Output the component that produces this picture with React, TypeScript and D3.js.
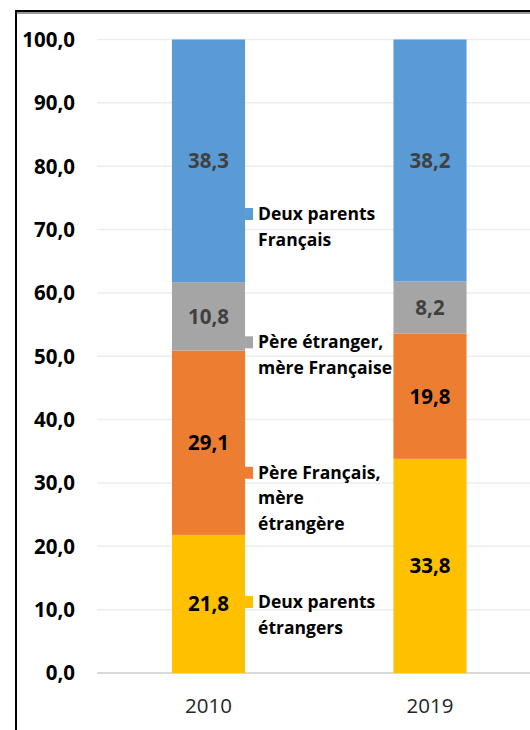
import React from "react";
import * as d3 from "d3";

const years = ["2010", "2019"];
const seriesNames = [
  "Deux parents étrangers",
  "Père Français, mère étrangère",
  "Père étranger, mère Française",
  "Deux parents Français",
];
const seriesLines = [
  ["Deux parents", "étrangers"],
  ["Père Français,", "mère", "étrangère"],
  ["Père étranger,", "mère Française"],
  ["Deux parents", "Français"],
];
const values2010 = [21.8, 29.1, 10.8, 38.3];
const values2019 = [33.8, 19.8, 8.2, 38.2];
const yTicks = [0, 10, 20, 30, 40, 50, 60, 70, 80, 90, 100];
// label anchor (in data units) for series-name annotations next to the 2010 bar
const labelAnchors = [11.2, 31.6, 52.2, 72.45];

const colors = ["#FFC000", "#ED7D31", "#A5A5A5", "#5B9BD5"];
const valueColors = ["#000000", "#000000", "#404040", "#404040"];

const W = 530;
const H = 730;
const FONT = "'Open Sans', 'Noto Sans', sans-serif";

export default function App() {
  const y = d3.scaleLinear().domain([0, 100]).range([673, 39.5]);
  const x = d3
    .scaleBand<string>()
    .domain(years)
    .range([97.75, 540.75])
    .paddingInner(0.67)
    .paddingOuter(0.335);

  const table = years.map((yr, i) => {
    const vals = i === 0 ? values2010 : values2019;
    const row: any = { year: yr };
    seriesNames.forEach((s, j) => (row[s] = vals[j]));
    return row;
  });
  const stacked = d3.stack<any>().keys(seriesNames)(table);
  const fmt = (v: number) => v.toFixed(1).replace(".", ",");
  const bw = x.bandwidth();
  const x2010 = x("2010")! + bw;

  return (
    <svg
      width={W}
      height={H}
      style={{ position: "absolute", left: 0, top: 0, background: "#fff" }}
    >
      <rect x={0} y={0} width={W} height={H} fill="#fff" />
      {/* frame */}
      <rect x={16} y={11} width={W + 20} height={H + 20} fill="none" stroke="#000" strokeWidth={2} />
      <line x1={16} x2={W} y1={13} y2={13} stroke="#333" strokeWidth={1} />
      {/* gridlines */}
      {yTicks.map((t) => (
        <line
          key={t}
          x1={97}
          x2={W}
          y1={y(t)}
          y2={y(t)}
          stroke={t === 0 ? "#d9d9d9" : "#ededed"}
          strokeWidth={t === 0 ? 2 : 1.5}
        />
      ))}
      {/* y tick labels */}
      {yTicks.map((t) => (
        <text
          key={"l" + t}
          x={75}
          y={y(t)}
          dy="0.36em"
          textAnchor="end"
          fontFamily={FONT}
          fontWeight="bold"
          fontSize={20.5}
          fill="#000"
        >
          {fmt(t)}
        </text>
      ))}
      {/* bars */}
      {stacked.map((layer, j) =>
        layer.map((d, i) => (
          <rect
            key={j + "-" + i}
            x={x(years[i])}
            width={bw}
            y={y(d[1])}
            height={y(d[0]) - y(d[1])}
            fill={colors[j]}
          />
        ))
      )}
      {/* value labels */}
      {stacked.map((layer, j) =>
        layer.map((d, i) => (
          <text
            key={"v" + j + "-" + i}
            x={x(years[i])! + bw / 2}
            y={y((d[0] + d[1]) / 2)}
            dy="0.36em"
            textAnchor="middle"
            fontFamily={FONT}
            fontWeight="bold"
            fontSize={20.5}
            fill={valueColors[j]}
          >
            {fmt(d[1] - d[0])}
          </text>
        ))
      )}
      {/* series name annotations */}
      {seriesLines.map((lines, j) => {
        const cy = y(labelAnchors[j]);
        return (
          <g key={"s" + j}>
            <rect x={x2010} y={cy - 6} width={8} height={12} fill={colors[j]} />
            {lines.map((ln, k) => (
              <text
                key={k}
                x={x2010 + 13}
                y={cy + 6 + k * 25.5}
                fontFamily={FONT}
                fontWeight="bold"
                fontSize={17.5}
                fill="#000"
              >
                {ln}
              </text>
            ))}
          </g>
        );
      })}
      {/* x axis labels */}
      {years.map((yr) => (
        <text
          key={"x" + yr}
          x={x(yr)! + bw / 2}
          y={713}
          textAnchor="middle"
          fontFamily={FONT}
          fontSize={20.5}
          fill="#262626"
        >
          {yr}
        </text>
      ))}
    </svg>
  );
}
